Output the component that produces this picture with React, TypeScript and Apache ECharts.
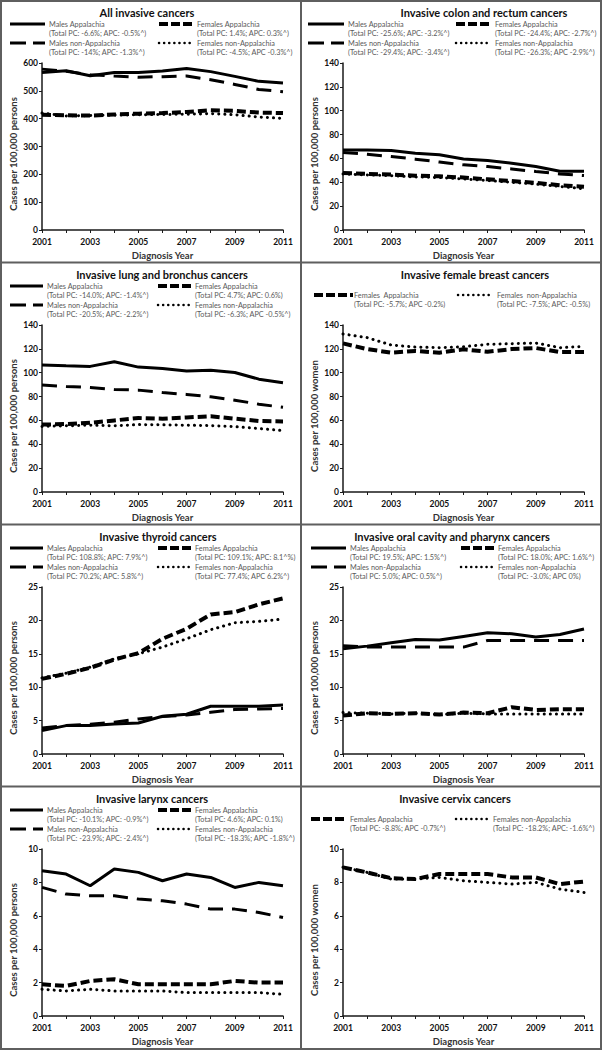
import React, { useEffect, useRef } from 'react';
import * as echarts from 'echarts';

const years = ['2001', '2002', '2003', '2004', '2005', '2006', '2007', '2008', '2009', '2010', '2011'];

// Panel 1: All invasive cancers
const allMalesApp = [566, 572, 554, 566, 566, 571, 580, 569, 552, 534, 528];
const allFemalesApp = [414, 412, 411, 415, 418, 420, 424, 430, 428, 422, 420];
const allMalesNon = [578, 570, 558, 553, 549, 551, 553, 540, 523, 505, 497];
const allFemalesNon = [420, 410, 411, 413, 414, 415, 416, 418, 414, 406, 401];

// Panel 2: Colon and rectum
const colonMalesApp = [67, 67, 66.6, 64.4, 63, 59.6, 58.2, 56, 53.2, 49.3, 49.2];
const colonFemalesApp = [47.8, 47, 46.5, 45.5, 45, 44, 42.5, 41, 39.5, 37.5, 36.2];
const colonMalesNon = [65, 63.5, 61.6, 59.4, 57, 54.6, 53.2, 51.2, 49, 47, 45.6];
const colonFemalesNon = [47, 46.2, 45.5, 44.5, 44, 42.8, 41.5, 40, 38.5, 36.5, 34.6];

// Panel 3: Lung and bronchus
const lungMalesApp = [106.4, 105.8, 105.3, 109.2, 104.7, 103.6, 101.4, 102, 100.2, 94.6, 91.6];
const lungFemalesApp = [56.5, 57, 58, 60, 62, 61.5, 62.5, 63.5, 61.5, 59.5, 59.2];
const lungMalesNon = [89.6, 88.5, 87.6, 86, 85.4, 83.4, 81.8, 79.8, 77, 73.6, 71];
const lungFemalesNon = [55, 55.5, 56, 55.5, 56.5, 56.3, 56, 55.6, 54.8, 53.2, 51.5];

// Panel 4: Female breast
const breastFemalesApp = [124.6, 119.8, 116.8, 118.2, 116.8, 119.6, 117.6, 119.8, 120.7, 117.3, 117.4];
const breastFemalesNon = [132.5, 129.4, 123.2, 121.5, 121, 121.8, 123.8, 124.3, 124.9, 121, 122];

// Panel 5: Thyroid
const thyMalesApp = [3.5, 4.25, 4.25, 4.5, 4.65, 5.65, 5.95, 7.15, 7.15, 7.15, 7.35];
const thyFemalesApp = [11.25, 12, 12.9, 14.15, 15.1, 17.25, 18.75, 20.9, 21.25, 22.4, 23.3];
const thyMalesNon = [3.9, 4.25, 4.45, 4.75, 5.25, 5.6, 5.85, 6.25, 6.65, 6.75, 6.8];
const thyFemalesNon = [11.4, 12.1, 13, 14.25, 15, 16, 17.25, 18.6, 19.65, 19.85, 20.2];

// Panel 6: Oral cavity and pharynx
const oralMalesApp = [15.75, 16.15, 16.65, 17.15, 17.05, 17.6, 18.15, 18, 17.5, 17.9, 18.7];
const oralFemalesApp = [5.75, 6.1, 6, 6.1, 5.9, 6.2, 6.1, 7, 6.6, 6.7, 6.7];
const oralMalesNon = [16.2, 16, 16, 16, 16, 16, 17, 17, 17, 17, 17];
const oralFemalesNon = [6.2, 6.1, 6, 6.1, 5.9, 6.1, 6, 6, 6, 6, 6];

// Panel 7: Larynx
const larMalesApp = [8.7, 8.5, 7.8, 8.8, 8.6, 8.1, 8.5, 8.3, 7.7, 8.0, 7.8];
const larFemalesApp = [1.9, 1.8, 2.1, 2.2, 1.9, 1.9, 1.9, 1.9, 2.1, 2.0, 2.0];
const larMalesNon = [7.7, 7.3, 7.2, 7.2, 7.0, 6.9, 6.7, 6.4, 6.4, 6.2, 5.9];
const larFemalesNon = [1.6, 1.5, 1.6, 1.5, 1.5, 1.5, 1.4, 1.4, 1.4, 1.4, 1.3];

// Panel 8: Cervix
const cervFemalesApp = [8.9, 8.6, 8.25, 8.2, 8.5, 8.5, 8.5, 8.3, 8.3, 7.9, 8.05];
const cervFemalesNon = [8.9, 8.6, 8.2, 8.2, 8.3, 8.1, 8.0, 7.9, 8.0, 7.6, 7.4];

const titles = [
  'All invasive cancers',
  'Invasive colon and rectum cancers',
  'Invasive lung and bronchus cancers',
  'Invasive female breast cancers',
  'Invasive thyroid cancers',
  'Invasive oral cavity and pharynx cancers',
  'Invasive larynx cancers',
  'Invasive cervix cancers',
];
const yMaxes = [600, 140, 140, 140, 25, 25, 10, 10];
const yIntervals = [100, 20, 20, 20, 5, 5, 2, 2];
const yNames = [
  'Cases per 100,000 persons',
  'Cases per 100,000 persons',
  'Cases per 100,000 persons',
  'Cases per 100,000 women',
  'Cases per 100,000 persons',
  'Cases per 100,000 persons',
  'Cases per 100,000 persons',
  'Cases per 100,000 women',
];

type Item = { key: string; name: string; sub: string; data: number[] };

const panelItems: Item[][] = [
  [
    { key: 'ma', name: 'Males Appalachia', sub: '(Total PC: -6.6%; APC: -0.5%^)', data: allMalesApp },
    { key: 'fa', name: 'Females Appalachia', sub: '(Total PC: 1.4%; APC: 0.3%^)', data: allFemalesApp },
    { key: 'mn', name: 'Males non-Appalachia', sub: '(Total PC: -14%; APC: -1.3%^)', data: allMalesNon },
    { key: 'fn', name: 'Females non-Appalachia', sub: '(Total PC: -4.5%; APC -0.3%^)', data: allFemalesNon },
  ],
  [
    { key: 'ma', name: 'Males Appalachia', sub: '(Total PC: -25.6%; APC: -3.2%^)', data: colonMalesApp },
    { key: 'fa', name: 'Females Appalachia', sub: '(Total PC: -24.4%; APC: -2.7%^)', data: colonFemalesApp },
    { key: 'mn', name: 'Males non-Appalachia', sub: '(Total PC: -29.4%; APC: -3.4%^)', data: colonMalesNon },
    { key: 'fn', name: 'Females non-Appalachia', sub: '(Total PC: -26.3%; APC -2.9%^)', data: colonFemalesNon },
  ],
  [
    { key: 'ma', name: 'Males Appalachia', sub: '(Total PC: -14.0%; APC: -1.4%^)', data: lungMalesApp },
    { key: 'fa', name: 'Females Appalachia', sub: '(Total PC: 4.7%; APC: 0.6%)', data: lungFemalesApp },
    { key: 'mn', name: 'Males non-Appalachia', sub: '(Total PC: -20.5%; APC: -2.2%^)', data: lungMalesNon },
    { key: 'fn', name: 'Females non-Appalachia', sub: '(Total PC: -6.3%; APC -0.5%^)', data: lungFemalesNon },
  ],
  [
    { key: 'fa', name: 'Females  Appalachia', sub: '(Total PC: -5.7%; APC -0.2%)', data: breastFemalesApp },
    { key: 'fn', name: 'Females  non-Appalachia', sub: '(Total PC: -7.5%; APC: -0.5%)', data: breastFemalesNon },
  ],
  [
    { key: 'ma', name: 'Males Appalachia', sub: '(Total PC: 108.8%; APC: 7.9%^)', data: thyMalesApp },
    { key: 'fa', name: 'Females Appalachia', sub: '(Total PC: 109.1%; APC: 8.1^%)', data: thyFemalesApp },
    { key: 'mn', name: 'Males non-Appalachia', sub: '(Total PC: 70.2%; APC: 5.8%^)', data: thyMalesNon },
    { key: 'fn', name: 'Females non-Appalachia', sub: '(Total PC: 77.4%; APC 6.2%^)', data: thyFemalesNon },
  ],
  [
    { key: 'ma', name: 'Males Appalachia', sub: '(Total PC: 19.5%; APC: 1.5%^)', data: oralMalesApp },
    { key: 'fa', name: 'Females Appalachia', sub: '(Total PC: 18.0%; APC: 1.6%^)', data: oralFemalesApp },
    { key: 'mn', name: 'Males non-Appalachia', sub: '(Total PC: 5.0%; APC: 0.5%^)', data: oralMalesNon },
    { key: 'fn', name: 'Females non-Appalachia', sub: '(Total PC: -3.0%; APC 0%)', data: oralFemalesNon },
  ],
  [
    { key: 'ma', name: 'Males Appalachia', sub: '(Total PC: -10.1%; APC: -0.9%^)', data: larMalesApp },
    { key: 'fa', name: 'Females Appalachia', sub: '(Total PC: 4.6%; APC: 0.1%)', data: larFemalesApp },
    { key: 'mn', name: 'Males non-Appalachia', sub: '(Total PC: -23.9%; APC: -2.4%^)', data: larMalesNon },
    { key: 'fn', name: 'Females non-Appalachia', sub: '(Total PC: -18.3%; APC -1.8%^)', data: larFemalesNon },
  ],
  [
    { key: 'fa', name: 'Females Appalachia', sub: '(Total PC: -8.8%; APC -0.7%^)', data: cervFemalesApp },
    { key: 'fn', name: 'Females non-Appalachia', sub: '(Total PC: -18.2%; APC: -1.6%^)', data: cervFemalesNon },
  ],
];

// layout (pixels, relative to each panel)
const titleCenters = [147, 183, 162, 174, 158, 151, 152, 154];
const legendRowY = [24, 24, 24, 33, 24, 24, 24, 33];
const leftSample = [[10, 45], [7, 43], [10, 43], [13, 52], [10, 43], [10, 45], [10, 43], [10, 45]];
const leftTextX = [49, 47, 47, 53, 47, 49, 47, 49];
const rightSample = [[159, 193], [155, 190], [158, 192], [157, 192], [158, 192], [160, 193], [158, 192], [155, 190]];
const rightTextX = [197, 194, 195, 196, 195, 197, 195, 192];
const panelOrigins = [[0, 0], [301, 0], [0, 262], [301, 262], [0, 524], [301, 524], [0, 786], [301, 786]];

const FONT = 'Lato, "Noto Sans", sans-serif';

const lineStyles: Record<string, any> = {
  ma: { color: '#000', width: 3, type: 'solid' },
  fa: { color: '#000', width: 4, type: [9, 4], cap: 'butt' },
  mn: { color: '#000', width: 3, type: [15, 9], cap: 'butt' },
  fn: { color: '#000', width: 3, type: [0.1, 6], cap: 'round' },
};
const sampleStyles: Record<string, any> = {
  ma: { stroke: '#000', lineWidth: 3 },
  fa: { stroke: '#000', lineWidth: 4, lineDash: [9, 3] },
  mn: { stroke: '#000', lineWidth: 3, lineDash: [16, 7] },
  fn: { stroke: '#000', lineWidth: 2.5, lineDash: [0.1, 5], lineCap: 'round' },
};

export default function App() {
  const ref = useRef<HTMLDivElement>(null);
  useEffect(() => {
    if (!ref.current) return;
    const chart = echarts.init(ref.current, null, { renderer: 'svg' });
    const grids: any[] = [];
    const xAxes: any[] = [];
    const yAxes: any[] = [];
    const series: any[] = [];
    const graphics: any[] = [];

    panelOrigins.forEach(([ox, oy], i) => {
      grids.push({ left: ox + 42, top: oy + 63, width: 241, height: 167, outerBoundsMode: 'none' });
      xAxes.push({
        type: 'category',
        gridIndex: i,
        data: years,
        boundaryGap: false,
        axisLine: { show: true, lineStyle: { color: '#1a1a1a', width: 1.5 } },
        axisTick: { show: true, interval: 0, length: 3, lineStyle: { color: '#1a1a1a', width: 1 } },
        axisLabel: { interval: 1, margin: 7, fontFamily: FONT, fontWeight: 'bold', fontSize: 8.5, color: '#111' },
        splitLine: { show: false },
        name: 'Diagnosis Year',
        nameLocation: 'middle',
        nameGap: 20,
        nameTextStyle: { fontFamily: FONT, fontSize: 9.5, fontWeight: 'bold', color: '#333' },
      });
      yAxes.push({
        type: 'value',
        gridIndex: i,
        min: 0,
        max: yMaxes[i],
        interval: yIntervals[i],
        axisLine: { show: true, lineStyle: { color: '#1a1a1a', width: 1.5 } },
        axisTick: { show: true, length: 3, lineStyle: { color: '#1a1a1a', width: 1 } },
        axisLabel: { margin: 4, fontFamily: FONT, fontWeight: 'bold', fontSize: 8.5, color: '#111' },
        splitLine: { show: false },
        name: yNames[i],
        nameLocation: 'middle',
        nameRotate: 90,
        nameGap: 24,
        nameTextStyle: { fontFamily: FONT, fontSize: 9.5, fontWeight: 'bold', color: '#333', padding: [0, 15, 0, 0] },
      });
      panelItems[i].forEach((it) => {
        series.push({
          type: 'line',
          name: it.name,
          xAxisIndex: i,
          yAxisIndex: i,
          data: it.data,
          symbol: 'none',
          silent: true,
          lineStyle: lineStyles[it.key],
        });
      });

      // title
      graphics.push({
        type: 'text',
        style: {
          text: titles[i],
          x: ox + titleCenters[i],
          y: oy + 12,
          font: `bold 11px ${FONT}`,
          fill: '#111',
          textAlign: 'center',
          textVerticalAlign: 'middle',
        },
      });
      // legend
      panelItems[i].forEach((it, k) => {
        const row = Math.floor(k / 2);
        const isRight = k % 2 === 1;
        const y = oy + legendRowY[i] + row * 19;
        const [sx1, sx2] = isRight ? rightSample[i] : leftSample[i];
        const tx = isRight ? rightTextX[i] : leftTextX[i];
        graphics.push({
          type: 'line',
          shape: { x1: ox + sx1, y1: y, x2: ox + sx2, y2: y },
          style: { ...sampleStyles[it.key] },
        });
        graphics.push({
          type: 'text',
          style: {
            text: it.name,
            x: ox + tx,
            y: y,
            font: `7.3px ${FONT}`,
            fill: '#5a5a5a',
            textAlign: 'left',
            textVerticalAlign: 'middle',
          },
        });
        graphics.push({
          type: 'text',
          style: {
            text: it.sub,
            x: ox + tx,
            y: y + 9.5,
            font: `7.3px ${FONT}`,
            fill: '#5a5a5a',
            textAlign: 'left',
            textVerticalAlign: 'middle',
          },
        });
      });
    });

    // frame and dividers
    const frameStyle = { stroke: '#5f5f5f', lineWidth: 2, fill: 'none' };
    graphics.push({ type: 'rect', shape: { x: 1, y: 1, width: 600, height: 1048 }, style: frameStyle });
    graphics.push({ type: 'line', shape: { x1: 301, y1: 0, x2: 301, y2: 1050 }, style: frameStyle });
    [262.5, 524.5, 786.5].forEach((yy) => {
      graphics.push({ type: 'line', shape: { x1: 0, y1: yy, x2: 602, y2: yy }, style: frameStyle });
    });

    chart.setOption({
      animation: false,
      backgroundColor: '#fff',
      grid: grids,
      xAxis: xAxes,
      yAxis: yAxes,
      series,
      graphic: { elements: graphics },
    });
    return () => chart.dispose();
  }, []);
  return <div ref={ref} style={{ position: 'absolute', left: 0, top: 0, width: 602, height: 1050 }} />;
}
